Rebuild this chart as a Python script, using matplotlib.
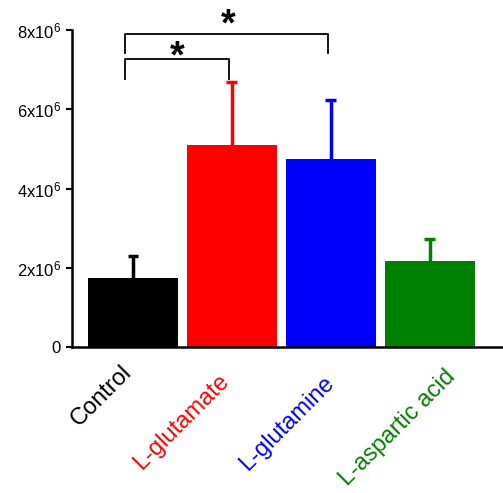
import matplotlib
matplotlib.use("Agg")
import matplotlib.pyplot as plt
import matplotlib.transforms as mtransforms
import numpy as np

plt.rcParams["font.family"] = ["Liberation Sans", "DejaVu Sans"]
plt.rcParams["mathtext.default"] = "regular"

categories = ["Control", "L-glutamate", "L-glutamine", "L-aspartic acid"]
means = [1.75e6, 5.11e6, 4.75e6, 2.18e6]
errors = [0.55e6, 1.59e6, 1.49e6, 0.54e6]
colors = ["black", "red", "blue", "green"]
yticks = [0, 2e6, 4e6, 6e6, 8e6]
ytick_labels = ["0", "2x10$^6$", "4x10$^6$", "6x10$^6$", "8x10$^6$"]

fig = plt.figure(figsize=(5.03, 4.93), dpi=100)
ax = fig.add_axes([72 / 503, 146 / 493, 431 / 503, 317 / 493])

x = np.arange(len(categories))
ax.bar(x, means, width=0.91, color=colors)
# upper-only error bars with a cap, no dash at the bar top
for xi, m, e, c in zip(x, means, errors, colors):
    ax.vlines(xi, m, m + e, color=c, lw=2.5)
    ax.hlines(m + e, xi - 0.055, xi + 0.055, color=c, lw=2.5)

# significance brackets
ax.plot([-0.08, -0.08, 0.97, 0.97], [6.77e6, 7.27e6, 7.27e6, 6.77e6],
        color="black", lw=1.3, clip_on=False)
ax.plot([-0.08, -0.08, 1.97, 1.97], [7.42e6, 7.9e6, 7.9e6, 7.42e6],
        color="black", lw=1.3, clip_on=False)
ax.text(0.45, 6.84e6, "*", ha="center", va="bottom", fontsize=27,
        fontweight="bold", clip_on=False)
ax.text(0.96, 7.66e6, "*", ha="center", va="bottom", fontsize=27,
        fontweight="bold", clip_on=False)

ax.set_xlim(-0.616, 3.74)
ax.set_ylim(0, 8e6)
ax.set_yticks(yticks)
ax.set_yticklabels(ytick_labels, fontsize=12)
ax.set_xticks(x)
ax.set_xticklabels([])

# rotated category labels, nudged per label (pixels) to sit like the original
nudges = [(-5, 9), (-6, 0), (0, -2), (22, 5)]
for xi, name, c, (dx, dy) in zip(x, categories, colors, nudges):
    tr = mtransforms.offset_copy(ax.get_xaxis_transform(), fig=fig,
                                 x=dx, y=-31 + dy, units="dots")
    ax.text(xi, 0, name, transform=tr, rotation=45, ha="right", va="center",
            rotation_mode="anchor", fontsize=17, color=c, clip_on=False)

ax.tick_params(axis="x", length=0)
ax.tick_params(axis="y", length=4, width=1.5, pad=4)
ax.spines["top"].set_visible(False)
ax.spines["right"].set_visible(False)
ax.spines["left"].set_linewidth(1.8)
ax.spines["bottom"].set_linewidth(1.8)

fig.savefig("out.png", dpi=100)
